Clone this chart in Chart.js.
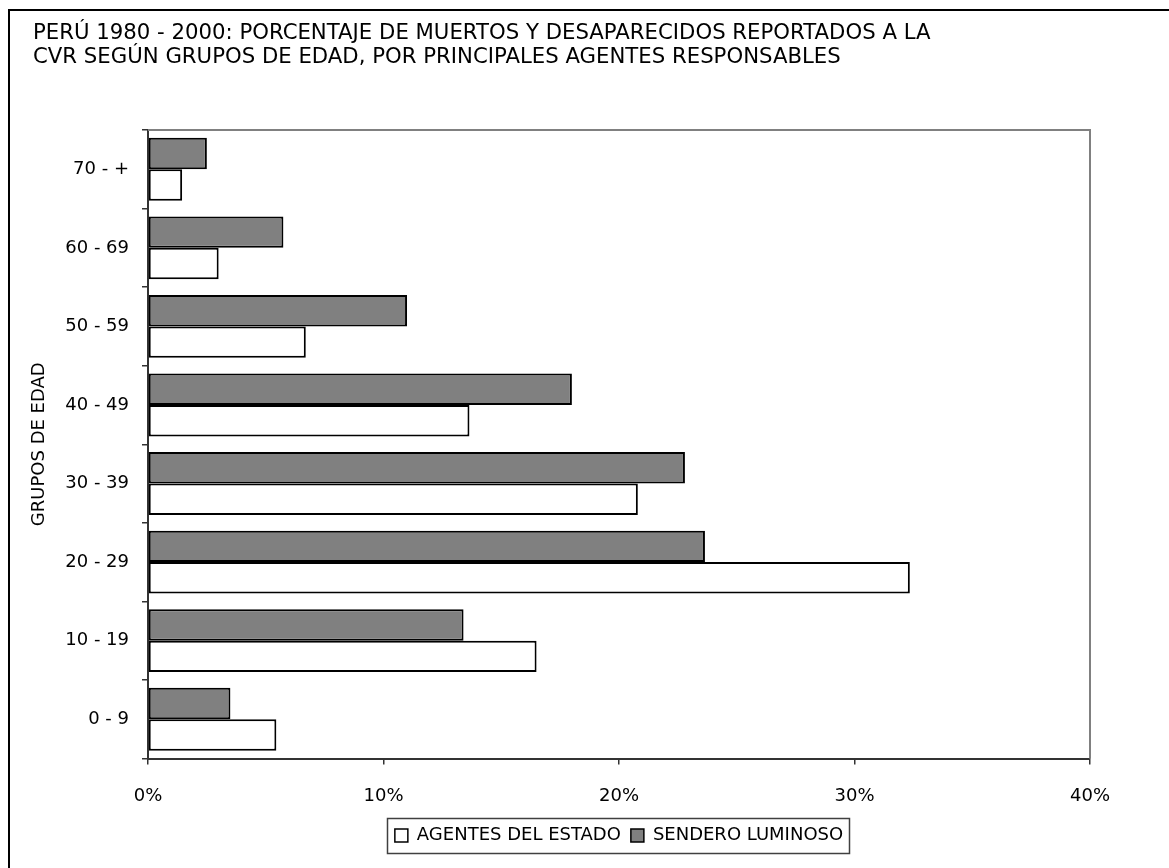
<!DOCTYPE html>
<html>
<head>
<meta charset="utf-8">
<script src="https://cdn.jsdelivr.net/npm/chart.js@4.4.1/dist/chart.umd.min.js"></script>
<style>
  html, body { margin: 0; padding: 0; background: #fff; }
</style>
</head>
<body>
<canvas id="GraficoEdad" width="1169" height="868"></canvas>
<script>
// datos (porcentajes)
var gruposEdad = ['0 - 9', '10 - 19', '20 - 29', '30 - 39', '40 - 49', '50 - 59', '60 - 69', '70 - +'];
var agentesEstado = [5.45, 16.5, 32.35, 20.8, 13.65, 6.7, 3.0, 1.45];
var senderoLuminoso = [3.5, 13.4, 23.65, 22.8, 18.0, 11.0, 5.75, 2.5];
var ticksPorcentaje = [0, 10, 20, 30, 40];
var tituloLineas = [
  'PERÚ 1980 - 2000: PORCENTAJE DE MUERTOS Y DESAPARECIDOS REPORTADOS A LA',
  'CVR SEGÚN GRUPOS DE EDAD, POR PRINCIPALES AGENTES RESPONSABLES'
];
var tituloEje = 'GRUPOS DE EDAD';

var fuente = '"DejaVu Sans", Tahoma, sans-serif';

// marco exterior, titulo, borde del area y caja de la leyenda
const marcoPlugin = {
  id: 'marco',
  beforeDraw: function(chart) {
    var c = chart.ctx;
    c.save();
    c.fillStyle = '#fff';
    c.fillRect(0, 0, chart.width, chart.height);
    c.strokeStyle = '#000';
    c.lineWidth = 2;
    c.strokeRect(9, 10, chart.width + 20, chart.height + 20);
    // titulo, ajustado al ancho del original
    var size = 18;
    c.font = size + 'px ' + fuente;
    var w = c.measureText(tituloLineas[0]).width;
    size = size * 898 / w;
    c.font = size + 'px ' + fuente;
    c.fillStyle = '#000';
    c.textBaseline = 'middle';
    c.fillText(tituloLineas[0], 33, 33);
    c.fillText(tituloLineas[1], 33, 57);
    c.restore();
  },
  beforeDatasetsDraw: function(chart) {
    var a = chart.chartArea;
    var c = chart.ctx;
    c.save();
    c.strokeStyle = '#808080';
    c.lineWidth = 2;
    c.beginPath();
    c.moveTo(a.left, a.top);
    c.lineTo(a.right, a.top);
    c.lineTo(a.right, a.bottom);
    c.stroke();
    c.restore();
  },
  afterDraw: function(chart) {
    var lg = chart.legend;
    if (!lg || !lg.legendHitBoxes || !lg.legendHitBoxes.length) return;
    var boxes = lg.legendHitBoxes;
    var x0 = Infinity, x1 = -Infinity, y0 = Infinity, y1 = -Infinity;
    boxes.forEach(function(b) {
      x0 = Math.min(x0, b.left); x1 = Math.max(x1, b.left + b.width);
      y0 = Math.min(y0, b.top); y1 = Math.max(y1, b.top + b.height);
    });
    var cy = (y0 + y1) / 2;
    var c = chart.ctx;
    c.save();
    c.strokeStyle = '#404040';
    c.lineWidth = 1.5;
    c.strokeRect(Math.round(x0 - 8) + 0.5, Math.round(cy - 17.5) + 0.5, Math.round(x1 - x0 + 14), 35);
    c.restore();
  }
};

const GraficoEdad = new Chart(document.getElementById('GraficoEdad'), {
  type: 'bar',
  data: {
    labels: gruposEdad,
    datasets: [{
      label: 'SENDERO LUMINOSO',
      data: senderoLuminoso,
      backgroundColor: '#808080',
      borderColor: '#000',
      borderWidth: 2,
      borderSkipped: false,
      categoryPercentage: 0.8,
      barPercentage: 1.0
    }, {
      label: 'AGENTES DEL ESTADO',
      data: agentesEstado,
      backgroundColor: '#ffffff',
      borderColor: '#000',
      borderWidth: 2,
      borderSkipped: false,
      categoryPercentage: 0.8,
      barPercentage: 1.0
    }]
  },
  options: {
    indexAxis: 'y',
    responsive: false,
    animation: false,
    layout: {
      padding: { top: 130, right: 79, left: 0, bottom: 13.5 }
    },
    scales: {
      x: {
        min: 0,
        max: 40,
        afterBuildTicks: function(scale) {
          scale.ticks = ticksPorcentaje.map(function(v) { return { value: v }; });
        },
        afterFit: function(scale) { scale.height = 58; },
        ticks: {
          callback: function(v) { return v + '%'; },
          color: '#000',
          padding: 21.5,
          maxRotation: 0,
          font: { family: fuente, size: 18 }
        },
        grid: {
          drawOnChartArea: false,
          drawTicks: true,
          tickLength: 6,
          color: '#333',
          lineWidth: 1.5
        },
        border: { color: '#333', width: 2 }
      },
      y: {
        reverse: true,
        afterFit: function(scale) { scale.width = 148; },
        title: {
          display: true,
          text: tituloEje,
          color: '#000',
          font: { family: fuente, size: 18 },
          padding: { top: 29, bottom: 0 }
        },
        ticks: {
          color: '#000',
          padding: 13,
          font: { family: fuente, size: 18 }
        },
        grid: {
          drawOnChartArea: false,
          drawTicks: true,
          tickLength: 6,
          color: '#333',
          lineWidth: 1.5
        },
        border: { color: '#333', width: 2 }
      }
    },
    plugins: {
      title: { display: false },
      tooltip: { enabled: false },
      legend: {
        position: 'bottom',
        fullSize: false,
        reverse: true,
        labels: {
          color: '#000',
          boxWidth: 13,
          boxHeight: 13,
          padding: 10,
          font: { family: fuente, size: 18 },
          generateLabels: function(chart) {
            var items = Chart.defaults.plugins.legend.labels.generateLabels(chart);
            items.forEach(function(it) { it.lineWidth = 1.5; it.strokeStyle = '#000'; });
            return items;
          }
        }
      }
    }
  },
  plugins: [marcoPlugin]
});
</script>
</body>
</html>
